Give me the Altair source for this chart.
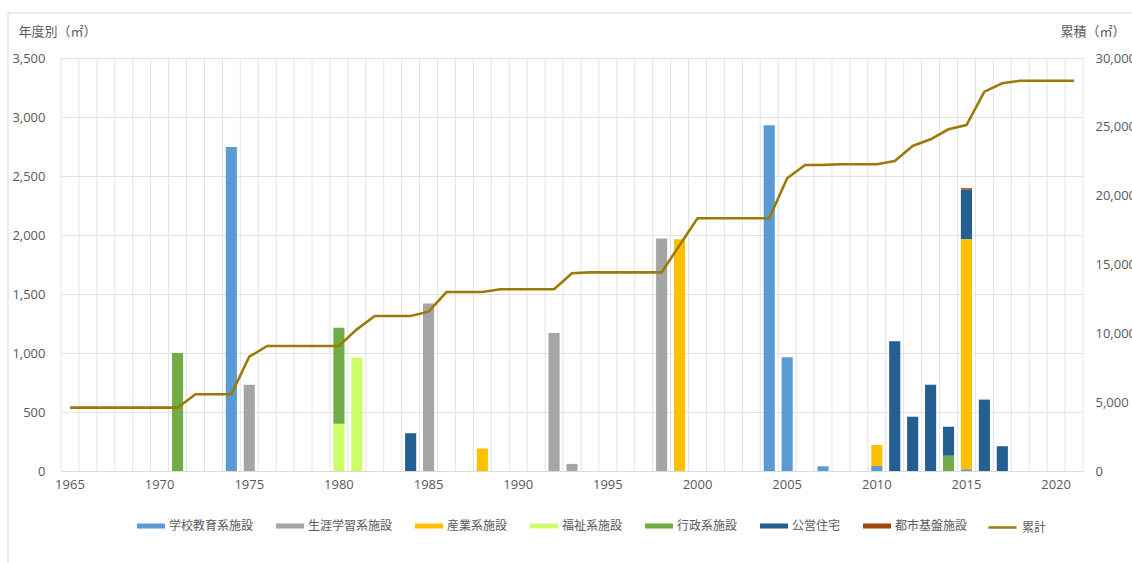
import altair as alt
import pandas as pd

# Fiscal years on the category axis
years = list(range(1965, 2022))

# Floor area added per year (㎡) by facility type
categories = ["学校教育系施設", "生涯学習系施設", "産業系施設", "福祉系施設",
              "行政系施設", "公営住宅", "都市基盤施設"]
colors = ["#5B9BD5", "#A5A5A5", "#FFC000", "#CCFF66",
          "#70AD47", "#255E91", "#9E480E"]

school = {1974: 2745, 2004: 2930, 2005: 965, 2007: 40, 2010: 42, 2015: 15}
lifelong = {1975: 730, 1985: 1420, 1992: 1170, 1993: 60, 1998: 1970}
industry = {1988: 190, 1999: 1965, 2010: 178, 2015: 1950}
welfare = {1980: 400, 1981: 960}
admin = {1971: 1000, 1980: 815, 2014: 130}
housing = {1984: 320, 2011: 1100, 2012: 460, 2013: 730, 2014: 245,
           2015: 420, 2016: 605, 2017: 210}
infra = {2015: 12}

# Cumulative floor area (㎡), one value per year
cumulative = [
    4600, 4600, 4600, 4600, 4600,
    4600, 4600, 5570, 5570, 5570, 8300, 9080, 9080, 9080, 9080,
    9080, 10290, 11260, 11260, 11260, 11575, 13000, 13000, 13000, 13200,
    13200, 13200, 13200, 14360, 14430, 14430, 14430, 14430, 14430, 16400,
    18360, 18360, 18360, 18360, 18360, 21260, 22230, 22240, 22280, 22280,
    22280, 22520, 23610, 24095, 24820, 25130, 27555, 28160, 28350, 28350,
    28350, 28350,
]

series = [school, lifelong, industry, welfare, admin, housing, infra]
rows = []
for idx, (name, values) in enumerate(zip(categories, series)):
    for yr, v in values.items():
        rows.append({"year": yr, "category": name, "order": idx, "value": v})
bars_df = pd.DataFrame(rows)
line_df = pd.DataFrame({"year": years, "total": cumulative, "label": "累計"})
years_df = pd.DataFrame({"year": years})
last_df = pd.DataFrame({"year": years[-1:]})

GRID = "#E3E3E3"
AXIS_LINE = "#D9D9D9"
TEXT = "#595959"
NUM_FONT = "Open Sans"
JP_FONT = "Noto Sans CJK JP"
BAR_SYMBOL = "M-1,-0.18L1,-0.18L1,0.18L-1,0.18Z"

x_scale = alt.Scale(domain=years, paddingInner=0, paddingOuter=0)
x_axis = alt.Axis(
    title=None, labelAngle=0, ticks=False,
    labelExpr="datum.value % 5 == 0 ? datum.label : ''",
    labelFont=NUM_FONT, labelFontSize=13, labelColor=TEXT, labelPadding=7,
    grid=False, domainColor=AXIS_LINE,
)

# Vertical gridlines on the boundaries between year bands
vgrid = alt.Chart(years_df).mark_rule(color=GRID, strokeWidth=1).encode(
    x=alt.X("year:O", bandPosition=0, scale=x_scale, axis=x_axis)
)
vgrid_end = alt.Chart(last_df).mark_rule(color=GRID, strokeWidth=1).encode(
    x=alt.X("year:O", bandPosition=1, scale=x_scale, axis=x_axis)
)

bars = alt.Chart(bars_df).mark_bar(width=alt.RelativeBandSize(0.62)).encode(
    x=alt.X("year:O", scale=x_scale, axis=x_axis),
    y=alt.Y(
        "value:Q", stack="zero",
        scale=alt.Scale(domain=[0, 3500], nice=False),
        axis=alt.Axis(
            values=list(range(0, 3501, 500)), format=",.0f",
            title="年度別（㎡）", titleAngle=0, titleAlign="left",
            titleBaseline="middle", titleX=-43, titleY=-27,
            titleFont=JP_FONT, titleFontSize=13, titleFontWeight="normal",
            titleColor=TEXT, labelFont=NUM_FONT, labelFontSize=13,
            labelColor=TEXT, labelPadding=16, ticks=False, domain=False,
            grid=True, gridColor=GRID,
        ),
    ),
    fill=alt.Fill(
        "category:N",
        scale=alt.Scale(domain=categories, range=colors),
        legend=alt.Legend(
            title=None, orient="none", legendX=76, legendY=454,
            direction="horizontal", symbolType=BAR_SYMBOL, symbolSize=784,
            symbolStrokeWidth=0, labelFont=JP_FONT, labelFontSize=12,
            labelColor=TEXT, labelOffset=4, columnPadding=22,
        ),
    ),
    order=alt.Order("order:Q", sort="ascending"),
)

line = alt.Chart(line_df).mark_line(strokeWidth=2.6).encode(
    x=alt.X("year:O", scale=x_scale, axis=x_axis),
    y=alt.Y(
        "total:Q",
        scale=alt.Scale(domain=[0, 30000], nice=False),
        axis=alt.Axis(
            orient="right", values=list(range(0, 30001, 5000)), format=",.0f",
            title="累積（㎡）", titleAngle=0, titleAlign="left",
            titleBaseline="middle", titleX=-23, titleY=-27,
            titleFont=JP_FONT, titleFontSize=13, titleFontWeight="normal",
            titleColor=TEXT, labelFont=NUM_FONT, labelFontSize=13,
            labelColor=TEXT, labelPadding=12, ticks=False, domain=False,
            grid=False,
        ),
    ),
    stroke=alt.Stroke(
        "label:N",
        scale=alt.Scale(domain=["累計"], range=["#9C7A05"]),
        legend=alt.Legend(
            title=None, orient="none", legendX=926, legendY=454,
            direction="horizontal", symbolType="stroke", symbolSize=784,
            symbolStrokeWidth=2.5, labelFont=JP_FONT, labelFontSize=12,
            labelColor=TEXT, labelOffset=4,
        ),
    ),
)

# Outer chart-area border
frame = alt.Chart(alt.Data(values=[{}])).mark_rect(
    fill=None, stroke=AXIS_LINE, strokeWidth=1
).encode(
    x=alt.value(-53), x2=alt.value(1300), y=alt.value(-45), y2=alt.value(700)
)

chart = alt.layer(frame, vgrid, vgrid_end, bars, line).resolve_scale(
    y="independent"
).properties(
    width=1022, height=413,
    padding={"left": 61, "top": 58, "right": 49, "bottom": 92},
    autosize=alt.AutoSizeParams(type="none"),
    background="white",
).configure_view(stroke=None)

chart.save("out.html", embed_options={"renderer": "svg", "actions": False})
